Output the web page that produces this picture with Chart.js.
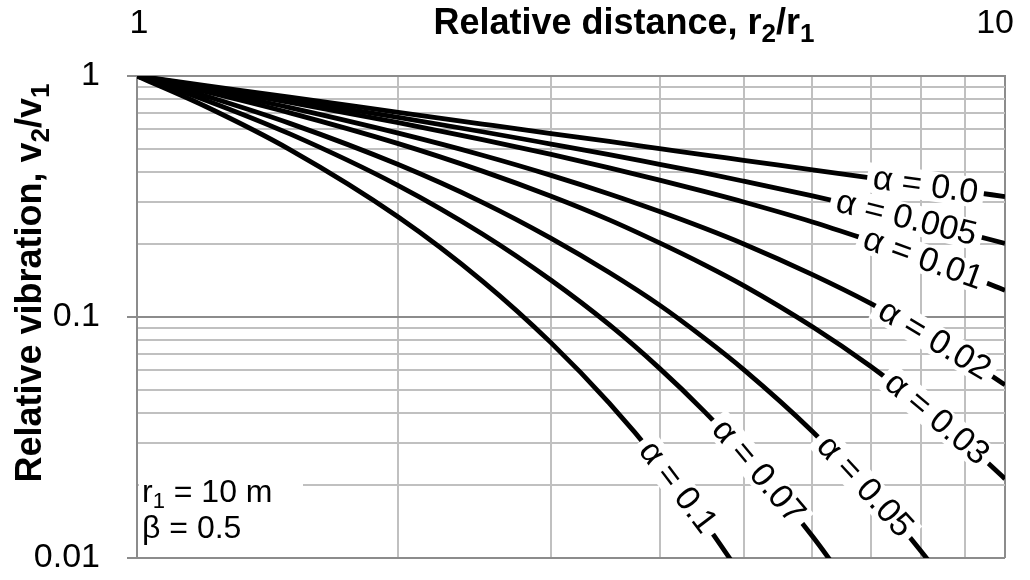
<!DOCTYPE html>
<html>
<head>
<meta charset="utf-8">
<script src="https://cdn.jsdelivr.net/npm/chart.js@4.4.1/dist/chart.umd.min.js"></script>
<style>
    html, body { margin: 0; padding: 0; background: #fff; }
</style>
</head>
<body>
<canvas id="chart" width="1030" height="580"></canvas>
<script>
// ───────────────────────── DATA ─────────────────────────
const distance = [1, 1.2, 1.5, 2, 2.5, 3, 3.5, 4, 4.5, 5, 6, 7, 8, 9, 10];   // r2/r1

const alphaNames = ["α = 0.0", "α = 0.005", "α = 0.01", "α = 0.02", "α = 0.03", "α = 0.05", "α = 0.07", "α = 0.1"];

const vibA000 = [1, 0.913, 0.817, 0.707, 0.632, 0.577, 0.535, 0.500, 0.471, 0.447, 0.408, 0.378, 0.354, 0.333, 0.316];
const vibA005 = [1, 0.904, 0.796, 0.673, 0.587, 0.522, 0.472, 0.430, 0.396, 0.366, 0.318, 0.280, 0.249, 0.223, 0.202];
const vibA01  = [1, 0.895, 0.777, 0.640, 0.544, 0.473, 0.416, 0.370, 0.332, 0.300, 0.248, 0.207, 0.176, 0.150, 0.129];
const vibA02  = [1, 0.877, 0.739, 0.579, 0.469, 0.387, 0.324, 0.274, 0.234, 0.201, 0.150, 0.114, 0.0872, 0.0673, 0.0523];
const vibA03  = [1, 0.860, 0.703, 0.524, 0.403, 0.317, 0.253, 0.203, 0.165, 0.135, 0.0911, 0.0625, 0.0433, 0.0302, 0.0213];
const vibA05  = [1, 0.826, 0.636, 0.429, 0.299, 0.212, 0.153, 0.112, 0.0819, 0.0605, 0.0335, 0.0188, 0.0107, 0.0061, null];
const vibA07  = [1, 0.794, 0.575, 0.351, 0.221, 0.142, 0.0929, 0.0612, 0.0407, 0.0272, 0.0123, 0.0057, null, null, null];
const vibA1   = [1, 0.747, 0.495, 0.260, 0.141, 0.0781, 0.0439, 0.0249, 0.0142, 0.0082, null, null, null, null, null];

const vibSeries = [vibA000, vibA005, vibA01, vibA02, vibA03, vibA05, vibA07, vibA1];
const labelAt   = [8.1, 7.7, 8.05, 8.3, 8.35, 6.9, 5.2, 4.2];   // r2/r1 where each α label sits on its curve

// grid lines and the labelled ticks
const xGrid = [1, 2, 3, 4, 5, 6, 7, 8, 9, 10];
const yGrid = [0.01, 0.02, 0.03, 0.04, 0.05, 0.06, 0.07, 0.08, 0.09,
               0.1, 0.2, 0.3, 0.4, 0.5, 0.6, 0.7, 0.8, 0.9, 1];
const xTickLabels = [1, 10];
const yTickLabels = [1, 0.1, 0.01];

// ───────────────────────── HELPERS ─────────────────────────
const FONT  = '"Liberation Sans", Arial, sans-serif';
const MAJOR = "#8c8c8c";
const MINOR = "#c0c0c0";

const isLabelled = (v, list) => list.some(t => Math.abs(v - t) < t * 1e-6);

// text made of runs: [text, size, bold, dy]  (dy > 0 = subscript)
function runsWidth(ctx, runs) {
    return runs.reduce((w, [t, size, bold]) => {
        ctx.font = (bold ? "bold " : "") + size + "px " + FONT;
        return w + ctx.measureText(t).width;
    }, 0);
}
function drawRuns(ctx, runs, x, y) {
    runs.forEach(([t, size, bold, dy]) => {
        ctx.font = (bold ? "bold " : "") + size + "px " + FONT;
        ctx.fillText(t, x, y + dy);
        x += ctx.measureText(t).width;
    });
}

// y of the drawn curve at pixel x (straight between the curve's points)
function curveY(meta, px) {
    const pts = meta.data;
    for (let i = 1; i < pts.length; i++) {
        if (pts[i].x >= px) {
            const a = pts[i - 1], b = pts[i];
            return a.y + (px - a.x) / (b.x - a.x) * (b.y - a.y);
        }
    }
    return pts[pts.length - 1].y;
}

// ───────────────────────── PLUGINS ─────────────────────────
const curveLabels = {
    id: "curveLabels",
    afterDatasetsDraw(chart) {
        const ctx = chart.ctx, xs = chart.scales.x;
        ctx.save();
        ctx.font = "34px " + FONT;
        ctx.textAlign = "center";
        ctx.textBaseline = "middle";
        const spots = chart.data.datasets.map((ds, i) => {
            const meta = chart.getDatasetMeta(i);
            const px = xs.getPixelForValue(labelAt[i]);
            const py = curveY(meta, px);
            const ang = Math.atan2(curveY(meta, px + 20) - curveY(meta, px - 20), 40);
            return { px, py, ang, text: ds.label, w: ctx.measureText(ds.label).width };
        });
        // white boxes first, then the texts
        spots.forEach(s => {
            ctx.save();
            ctx.translate(s.px, s.py); ctx.rotate(s.ang);
            ctx.fillStyle = "#fff";
            ctx.fillRect(-s.w / 2 - 6, -15, s.w + 12, 30);
            ctx.restore();
        });
        spots.forEach(s => {
            ctx.save();
            ctx.translate(s.px, s.py); ctx.rotate(s.ang);
            ctx.fillStyle = "#000";
            ctx.fillText(s.text, 0, 1);
            ctx.restore();
        });

        // r1 / β note, bottom left
        const left = chart.chartArea.left;
        ctx.fillStyle = "#fff";
        ctx.fillRect(left + 2, 463, 164, 86);
        ctx.fillStyle = "#000";
        ctx.textAlign = "left";
        ctx.textBaseline = "alphabetic";
        drawRuns(ctx, [["r", 32, false, 0], ["1", 22, false, 6], [" = 10 m", 32, false, 0]], left + 5, 502);
        drawRuns(ctx, [["β = 0.5", 32, false, 0]], left + 5, 538);
        ctx.restore();
    }
};

const axisTitles = {
    id: "axisTitles",
    afterDraw(chart) {
        const ctx = chart.ctx, xs = chart.scales.x;
        ctx.save();
        ctx.fillStyle = "#000";
        ctx.textBaseline = "alphabetic";

        // x tick labels (the last one is pulled inside, as in the reference)
        ctx.font = "34px " + FONT;
        xTickLabels.forEach((v, i) => {
            const last = i === xTickLabels.length - 1;
            ctx.textAlign = last ? "right" : "center";
            ctx.fillText(String(v), xs.getPixelForValue(v) + (last ? 9 : 2), 33);
        });

        ctx.textAlign = "left";
        const xTitle = [["Relative distance, r", 36, true, 0], ["2", 26, true, 8], ["/r", 36, true, 0], ["1", 26, true, 8]];
        drawRuns(ctx, xTitle, 624 - runsWidth(ctx, xTitle) / 2, 34);

        const yTitle = [["Relative vibration, v", 36, true, 0], ["2", 26, true, 8], ["/v", 36, true, 0], ["1", 26, true, 8]];
        ctx.translate(41, 283);
        ctx.rotate(-Math.PI / 2);
        drawRuns(ctx, yTitle, -runsWidth(ctx, yTitle) / 2, 0);
        ctx.restore();
    }
};

// ───────────────────────── CHART ─────────────────────────
const datasets = vibSeries.map((vals, i) => ({
    label:        alphaNames[i],
    data:         distance.map((x, j) => ({ x, y: vals[j] })).filter(p => p.y !== null),
    showLine:     true,
    borderColor:  "#000",
    borderWidth:  4.8,
    pointRadius:  0,
    cubicInterpolationMode: "monotone",
    clip:         0,
}));

new Chart(document.getElementById("chart"), {
    type: "scatter",
    data: { datasets },
    options: {
        responsive: false,
        animation:  false,
        layout: { padding: { top: 0, left: 0, right: 25, bottom: 22 } },
        plugins: { legend: { display: false }, tooltip: { enabled: false } },
        scales: {
            x: {
                type: "logarithmic", position: "top", min: 1, max: 10,
                afterBuildTicks: s => { s.ticks = xGrid.map(value => ({ value })); },
                afterFit: s => { s.height = 76; s.paddingLeft = 0; s.paddingRight = 0; },
                border: { color: MAJOR, width: 2 },
                grid: {
                    drawTicks: false,
                    lineWidth: 2,
                    color: c => (c.tick && isLabelled(c.tick.value, xTickLabels)) ? MAJOR : MINOR,
                },
                ticks: { display: false },
            },
            y: {
                type: "logarithmic", min: 0.01, max: 1,
                afterBuildTicks: s => { s.ticks = yGrid.map(value => ({ value })); },
                afterFit: s => { s.width = 137; s.paddingTop = 0; s.paddingBottom = 0; },
                border: { color: MAJOR, width: 2 },
                grid: {
                    lineWidth: 2,
                    tickLength: 10,
                    color:     c => (c.tick && isLabelled(c.tick.value, yTickLabels)) ? MAJOR : MINOR,
                    tickColor: c => (c.tick && isLabelled(c.tick.value, yTickLabels)) ? MAJOR : "rgba(0,0,0,0)",
                },
                ticks: {
                    autoSkip: false, padding: 27, color: "#000",
                    font: { family: FONT, size: 34 },
                    callback: v => isLabelled(v, yTickLabels) ? String(v) : "",
                },
            },
        },
    },
    plugins: [curveLabels, axisTitles],
});
</script>
</body>
</html>
